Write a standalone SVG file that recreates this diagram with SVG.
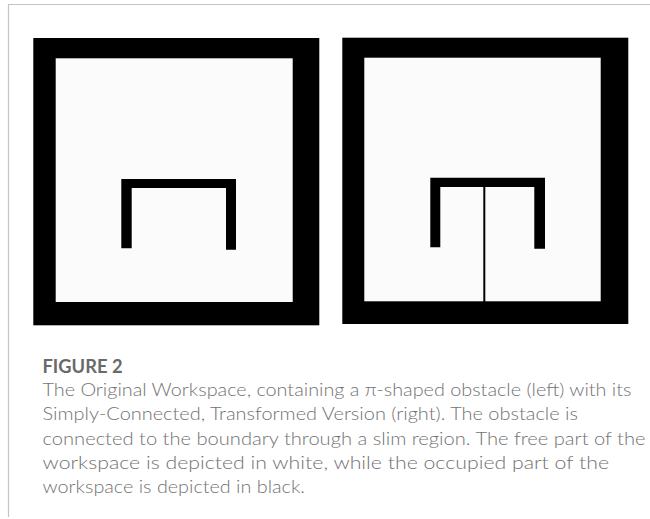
<svg xmlns="http://www.w3.org/2000/svg" width="650" height="519" viewBox="0 0 650 519">
<style>
.frame{fill:none;stroke:#c4c4c4;stroke-width:1.2}
.wall{fill:#000}
.free{fill:#fbfbfb}
.title{font-family:Lato,"Open Sans","Liberation Sans",sans-serif;font-weight:bold;font-size:18px;fill:#6a6a6a}
.cap{font-family:Lato,"Open Sans","Liberation Sans",sans-serif;font-weight:300;font-size:18.5px;fill:#727272}
</style>
<rect width="650" height="519" fill="#fff"/>
<path class="frame" d="M650,4.5 H8.5 V517"/>
<g id="left-workspace">
<rect class="wall" x="33.3" y="38" width="286" height="287.3"/>
<rect class="free" x="55.7" y="58.3" width="237" height="243.7"/>
<path class="wall" d="M121.3,179 H236 V249.7 H226 V188 H131.7 V248.3 H121.3 Z"/>
</g>
<g id="right-workspace">
<rect class="wall" x="342.3" y="37.7" width="286" height="286.3"/>
<rect class="free" x="364.3" y="57.7" width="236.4" height="243.6"/>
<path class="wall" d="M430.3,177.7 H545 V248.7 H534.3 V187 H440.3 V247.3 H430.3 Z"/>
<rect class="wall" x="483.3" y="186" width="2" height="116"/>
</g>
<g id="caption">
<text class="title" x="42.5" y="372.7" textLength="80" lengthAdjust="spacingAndGlyphs">FIGURE 2</text>
<text class="cap" x="42.5" y="396" textLength="589" lengthAdjust="spacingAndGlyphs">The Original Workspace, containing a π-shaped obstacle (left) with its</text>
<text class="cap" x="42.5" y="420" textLength="535.5" lengthAdjust="spacingAndGlyphs">Simply-Connected, Transformed Version (right). The obstacle is</text>
<text class="cap" x="42.5" y="444.5" textLength="603" lengthAdjust="spacingAndGlyphs">connected to the boundary through a slim region. The free part of the</text>
<text class="cap" x="42.5" y="469" textLength="566.5" lengthAdjust="spacingAndGlyphs">workspace is depicted in white, while the occupied part of the</text>
<text class="cap" x="42.5" y="493" textLength="262.5" lengthAdjust="spacingAndGlyphs">workspace is depicted in black.</text>
</g>
</svg>
